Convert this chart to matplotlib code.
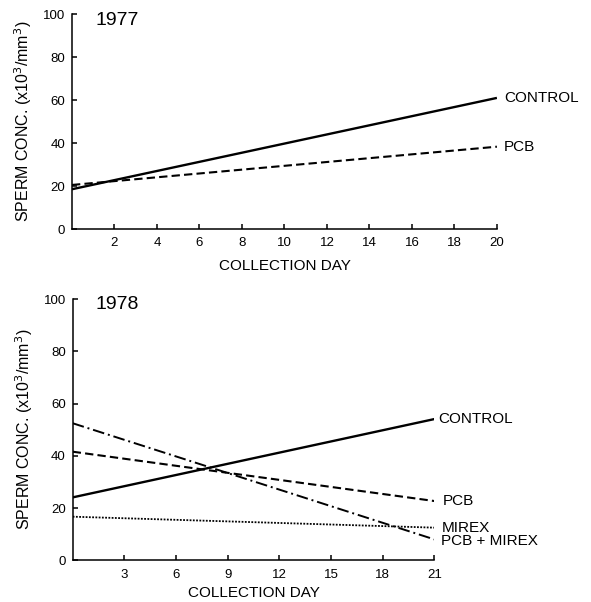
import matplotlib
matplotlib.use("Agg")
import matplotlib.pyplot as plt

plt.rcParams['font.family'] = ['Liberation Sans', 'DejaVu Sans']

# 1977 panel
days_77 = [0, 20]
control_77 = [18.5, 61]
pcb_77 = [20.5, 38.3]

# 1978 panel
days_78 = [0, 21]
control_78 = [24.1, 54.1]
pcb_78 = [41.6, 22.7]
mirex_78 = [16.7, 12.5]
pcbmirex_78 = [52.5, 8.0]

xticks_77 = [2, 4, 6, 8, 10, 12, 14, 16, 18, 20]
xticks_78 = [3, 6, 9, 12, 15, 18, 21]
yticks = [0, 20, 40, 60, 80, 100]

ylab = 'SPERM CONC. (x10$^3$/mm$^3$)'


def style_axes(ax, xmax, xticks, xpad):
    ax.set_xlim(0, xmax)
    ax.set_ylim(0, 100)
    ax.set_xticks(xticks)
    ax.set_yticks(yticks)
    for s in ['top', 'right']:
        ax.spines[s].set_visible(False)
    for s in ['left', 'bottom']:
        ax.spines[s].set_linewidth(1.1)
    ax.tick_params(direction='in', length=3.5, width=1.1, labelsize=9.5)
    ax.tick_params(axis='x', pad=6)
    ax.tick_params(axis='y', pad=5)
    ax.set_ylabel(ylab, fontsize=11.5, labelpad=6)
    ax.set_xlabel('COLLECTION DAY', fontsize=11, labelpad=xpad)


fig = plt.figure(figsize=(5.91, 6.02), dpi=100)

# ---- top: 1977
ax1 = fig.add_axes([0.1218, 0.6196, 0.719, 0.357])
ax1.plot(days_77, control_77, color='black', lw=1.7, solid_capstyle='butt')
ax1.plot(days_77, pcb_77, color='black', lw=1.5, dashes=(4, 2))
style_axes(ax1, 20, xticks_77, 7)
ax1.text(1.1, 97, '1977', fontsize=14, ha='left', va='center')
ax1.annotate('CONTROL', xy=(days_77[-1], control_77[-1]), xytext=(5, 0),
             textcoords='offset points', fontsize=11, va='center', annotation_clip=False)
ax1.annotate('PCB', xy=(days_77[-1], pcb_77[-1]), xytext=(5, 0),
             textcoords='offset points', fontsize=11, va='center', annotation_clip=False)

# ---- bottom: 1978
ax2 = fig.add_axes([0.123, 0.0693, 0.612, 0.4336])
ax2.plot(days_78, control_78, color='black', lw=1.7, solid_capstyle='butt')
ax2.plot(days_78, pcb_78, color='black', lw=1.5, dashes=(4, 2))
ax2.plot(days_78, mirex_78, color='black', lw=1.3, dashes=(1, 0.8))
ax2.plot(days_78, pcbmirex_78, color='black', lw=1.4, dashes=(6, 2, 1, 2))
style_axes(ax2, 21, xticks_78, 4)
ax2.text(1.3, 97.8, '1978', fontsize=14, ha='left', va='center')
ax2.annotate('CONTROL', xy=(days_78[-1], control_78[-1]), xytext=(3, 0),
             textcoords='offset points', fontsize=11, va='center', annotation_clip=False)
ax2.annotate('PCB', xy=(days_78[-1], pcb_78[-1]), xytext=(6, 0),
             textcoords='offset points', fontsize=11, va='center', annotation_clip=False)
ax2.annotate('MIREX', xy=(days_78[-1], mirex_78[-1]), xytext=(5, 0),
             textcoords='offset points', fontsize=11, va='center', annotation_clip=False)
ax2.annotate('PCB + MIREX', xy=(days_78[-1], pcbmirex_78[-1]), xytext=(5, -1.5),
             textcoords='offset points', fontsize=11, va='center', annotation_clip=False)

fig.savefig('out.png', dpi=100)
